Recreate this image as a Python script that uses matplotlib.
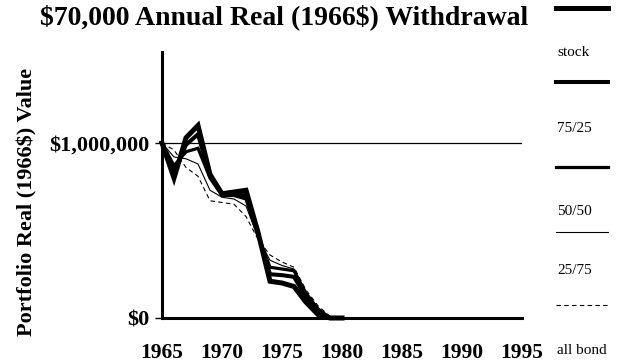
import matplotlib
matplotlib.use("Agg")
import matplotlib.pyplot as plt
from matplotlib.lines import Line2D

years = list(range(1965, 1981))

# portfolio values in millions of 1966 dollars
stock = [1.00, 0.80, 1.03, 1.10, 0.82, 0.71, 0.72, 0.73, 0.49, 0.21, 0.20, 0.18, 0.09, 0.02, 0.0, 0.0]
mix_75_25 = [1.00, 0.83, 0.99, 1.05, 0.81, 0.71, 0.71, 0.70, 0.48, 0.25, 0.245, 0.235, 0.12, 0.04, 0.0, 0.0]
mix_50_50 = [1.00, 0.87, 0.95, 0.97, 0.80, 0.70, 0.70, 0.68, 0.47, 0.29, 0.28, 0.27, 0.14, 0.05, 0.0, 0.0]
mix_25_75 = [1.00, 0.92, 0.91, 0.88, 0.73, 0.69, 0.68, 0.64, 0.46, 0.33, 0.30, 0.28, 0.15, 0.06, 0.005, 0.0]
all_bond = [1.00, 0.96, 0.86, 0.81, 0.67, 0.66, 0.65, 0.58, 0.45, 0.36, 0.32, 0.29, 0.16, 0.07, 0.01, 0.0]

labels = ["stock", "75/25", "50/50", "25/75", "all bond"]
series = [stock, mix_75_25, mix_50_50, mix_25_75, all_bond]
widths = [3.6, 2.9, 2.3, 0.8, 0.8]
styles = ["-", "-", "-", "-", (0, (4, 3))]

x_ticks = [1965, 1970, 1975, 1980, 1985, 1990, 1995]

plt.rcParams['font.family'] = ['Liberation Serif', 'DejaVu Serif']
plt.rcParams['font.weight'] = 'bold'
plt.rcParams['text.parse_math'] = False

fig = plt.figure(figsize=(6.33, 3.62), dpi=100)
ax = fig.add_axes([162 / 633, 1 - 318 / 362, 360 / 633, 266 / 362])

for vals, w, ls in zip(series, widths, styles):
    ax.plot(years, [v * 1e6 for v in vals], color='black', lw=w, ls=ls,
            solid_joinstyle='miter', clip_on=False)

ax.axhline(1e6, color='black', lw=0.9)

ax.set_xlim(1965, 1995)
ax.set_ylim(0, 1.52e6)
ax.set_xticks(x_ticks)
ax.set_xticklabels([str(t) for t in x_ticks], fontsize=15.5, fontweight='bold')
ax.set_yticks([0, 1e6])
ax.set_yticklabels(['$0', '$1,000,000'], fontsize=16, fontweight='bold')
ax.tick_params(axis='x', length=0, pad=18)
ax.tick_params(axis='y', length=5, width=1, pad=4)
for s in ['top', 'right']:
    ax.spines[s].set_visible(False)
for s in ['left', 'bottom']:
    ax.spines[s].set_linewidth(2.2)

ax.set_ylabel('Portfolio Real (1966$) Value', fontsize=16, fontweight='bold')
ax.yaxis.set_label_coords((37 - 162) / 360, (318 - 202) / 266)
fig.text(284 / 633, 1 - 17 / 362, '$70,000 Annual Real (1966$) Withdrawal',
         ha='center', va='center', fontsize=20, fontweight='bold')

# legend down the right edge: line above each label
line_y = [8, 82, 167, 232, 305]
text_y = [52, 128, 212, 270, 350]
for lab, w, ls, ly, ty in zip(labels, widths, styles, line_y, text_y):
    fig.add_artist(Line2D([556 / 633, 608 / 633], [1 - ly / 362, 1 - ly / 362],
                          transform=fig.transFigure, color='black', lw=w, ls=ls))
    fig.text(557 / 633, 1 - ty / 362, lab, ha='left', va='center', fontsize=11,
             fontweight='normal')

fig.savefig('out.png', dpi=100)
